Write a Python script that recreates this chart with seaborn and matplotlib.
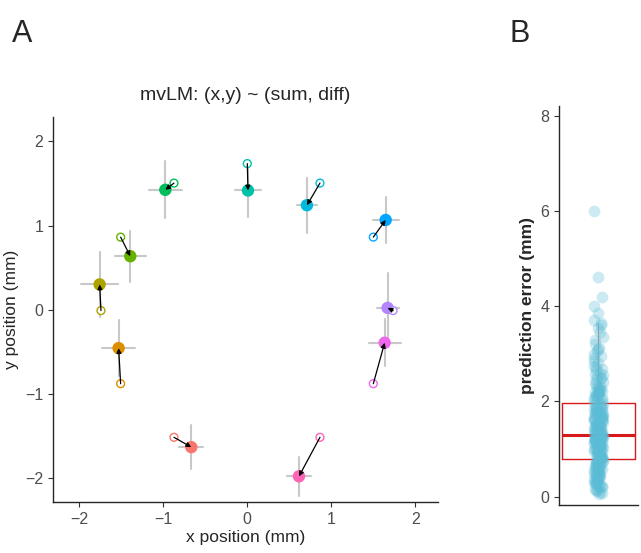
#---------------------------------------------------------------------#
# plot.py - mvLM position prediction (A) and prediction error (B)
#---------------------------------------------------------------------#
import numpy as np
import pandas as pd
import matplotlib
matplotlib.use("Agg")
import matplotlib.pyplot as plt
import seaborn as sns

# true target positions (open circles)
true_x = [-0.873, -1.508, -1.742, -1.508, -0.873, 0.0, 0.865, 1.5, 1.735, 1.5, 0.865]
true_y = [-1.52, -0.882, -0.012, 0.862, 1.505, 1.737, 1.505, 0.862, -0.012, -0.882, -1.52]

# predicted mean positions (filled circles) and their spread
pred_x = [-0.667, -1.532, -1.758, -1.393, -0.976, 0.008, 0.71, 1.647, 1.67, 1.635, 0.615]
pred_y = [-1.637, -0.459, 0.299, 0.635, 1.425, 1.417, 1.242, 1.066, 0.02, -0.395, -1.984]
sd_x = [0.145, 0.2, 0.216, 0.185, 0.2, 0.16, 0.12, 0.155, 0.13, 0.19, 0.145]
sd_y = [0.26, 0.335, 0.39, 0.305, 0.34, 0.31, 0.325, 0.27, 0.41, 0.28, 0.233]

colors = ["#F8766D", "#DB8E00", "#AEA200", "#64B200", "#00BD5C", "#00C1A7",
          "#00BADE", "#00A6FF", "#B385FF", "#EF67EB", "#FF63B6"]

# prediction errors (mm)
pred_error = [
    0.05, 0.1, 0.14, 0.18, 0.2, 0.23, 0.26, 0.29, 0.31, 0.34, 0.36, 0.38, 0.41, 0.43,
    0.45, 0.47, 0.5, 0.52, 0.54, 0.56, 0.58, 0.6, 0.62, 0.64, 0.66, 0.68, 0.7, 0.71,
    0.73, 0.75, 0.76, 0.78, 0.79,
    0.08, 0.12, 0.16, 0.22, 0.25, 0.28, 0.33, 0.37, 0.4, 0.44, 0.48, 0.53, 0.57, 0.61,
    0.65, 0.69, 0.72, 0.77, 0.3, 0.46, 0.55, 0.63, 0.74,
    0.8, 0.82, 0.84, 0.86, 0.88, 0.9, 0.92, 0.93, 0.95, 0.97, 0.99, 1.0, 1.02, 1.04,
    1.05, 1.07, 1.09, 1.1, 1.12, 1.13, 1.15, 1.16, 1.18, 1.19, 1.2, 1.21, 1.22, 1.23,
    1.24, 1.25, 1.26, 1.27, 1.28,
    0.81, 0.85, 0.89, 0.94, 0.98, 1.01, 1.06, 1.08, 1.11, 1.14, 1.17, 1.2, 1.23, 1.25,
    1.27, 0.83, 0.91, 0.96, 1.03, 1.13, 1.19, 1.24, 1.26,
    1.29, 1.31, 1.33, 1.35, 1.37, 1.39, 1.41, 1.43, 1.45, 1.47, 1.49, 1.51, 1.53, 1.55,
    1.57, 1.59, 1.61, 1.63, 1.65, 1.67, 1.69, 1.71, 1.73, 1.75, 1.77, 1.79, 1.81, 1.83,
    1.85, 1.87, 1.89, 1.92, 1.95,
    1.3, 1.34, 1.38, 1.42, 1.46, 1.5, 1.54, 1.58, 1.62, 1.66, 1.7, 1.74, 1.78, 1.82,
    1.86, 1.9, 1.94, 1.36, 1.44, 1.52, 1.6, 1.68, 1.76,
    1.98, 2.02, 2.06, 2.1, 2.14, 2.17, 2.19, 2.2, 2.22, 2.25, 2.3, 2.35, 2.4, 2.48,
    2.52, 2.55, 2.6, 2.68, 2.75, 2.85, 2.95, 3.05, 3.12, 3.2, 3.35, 3.55, 3.65, 3.7,
    3.85, 4.0, 4.2, 4.62, 6.0,
    2.0, 2.04, 2.08, 2.12, 2.16, 2.18, 2.21, 2.24, 2.28, 2.33, 2.38, 2.45, 2.5, 2.58,
    2.65, 2.72, 2.8, 2.9, 3.0, 3.1, 3.28, 3.45, 3.6,
]

sns.set_style("ticks")
plt.rcParams["font.family"] = ["Liberation Sans", "DejaVu Sans"]
plt.rcParams["axes.linewidth"] = 1.0

fig = plt.figure(figsize=(6.41, 5.53), dpi=100)

#---------------------------- panel A --------------------------------#
ax = fig.add_axes([0.0827, 0.0922, 0.6006, 0.696])
for i in range(len(pred_x)):
    ax.plot([pred_x[i] - sd_x[i], pred_x[i] + sd_x[i]], [pred_y[i], pred_y[i]],
            color="#C8C8C8", lw=1.5, zorder=1)
    ax.plot([pred_x[i], pred_x[i]], [pred_y[i] - sd_y[i], pred_y[i] + sd_y[i]],
            color="#C8C8C8", lw=1.5, zorder=1)

df = pd.DataFrame({"tx": true_x, "ty": true_y, "px": pred_x, "py": pred_y,
                   "pos": [str(i) for i in range(len(true_x))]})
sns.scatterplot(data=df, x="px", y="py", hue="pos", palette=colors, s=80,
                edgecolor="none", legend=False, ax=ax, zorder=2)
sns.scatterplot(data=df, x="tx", y="ty", s=32, facecolor="white",
                edgecolor=colors, linewidth=1.0, legend=False, ax=ax, zorder=3)
for i in range(len(true_x)):
    ax.annotate("", xy=(pred_x[i], pred_y[i]), xytext=(true_x[i], true_y[i]),
                arrowprops=dict(arrowstyle="-|>", color="black", lw=0.9,
                                mutation_scale=7, shrinkA=0, shrinkB=0),
                zorder=4)

ax.set_xlim(-2.313, 2.27)
ax.set_ylim(-2.29, 2.29)
ax.set_xticks([-2, -1, 0, 1, 2])
ax.set_yticks([-2, -1, 0, 1, 2])
ax.tick_params(labelsize=11.5, color="#333333", labelcolor="#4D4D4D", length=3.5)
ax.set_xlabel("x position (mm)", fontsize=12.5, labelpad=2)
ax.set_ylabel("y position (mm)", fontsize=12.5, labelpad=4)
ax.set_title("mvLM: (x,y) ~ (sum, diff)", fontsize=14, pad=12)
sns.despine(ax=ax)

#---------------------------- panel B --------------------------------#
bx = fig.add_axes([0.872, 0.087, 0.123, 0.721])
err = pd.DataFrame({"g": [""] * len(pred_error), "err": pred_error})
np.random.seed(3)
sns.stripplot(data=err, x="g", y="err", color="#5BBCD6", alpha=0.3, size=8.5,
              jitter=0.06, linewidth=0, ax=bx, zorder=3)
sns.boxplot(data=err, x="g", y="err", width=0.92, fill=False, color="#D7191C",
            linewidth=1.0, showfliers=False, showcaps=False,
            whiskerprops=dict(linewidth=0.8, alpha=0.6),
            medianprops=dict(linewidth=2.2), ax=bx, zorder=2)
bx.set_xlim(-0.5, 0.5)
bx.set_ylim(-0.175, 8.2)
bx.set_yticks([0, 2, 4, 6, 8])
bx.set_xticks([])
bx.set_xlabel("")
bx.set_ylabel("prediction error (mm)", fontsize=12.5, fontweight="bold", labelpad=4)
bx.tick_params(labelsize=11.5, color="#333333", labelcolor="#4D4D4D", length=3.5)
sns.despine(ax=bx)

fig.text(0.018, 0.965, "A", fontsize=22, va="top")
fig.text(0.795, 0.965, "B", fontsize=22, va="top")

fig.savefig("out.png", dpi=100)
